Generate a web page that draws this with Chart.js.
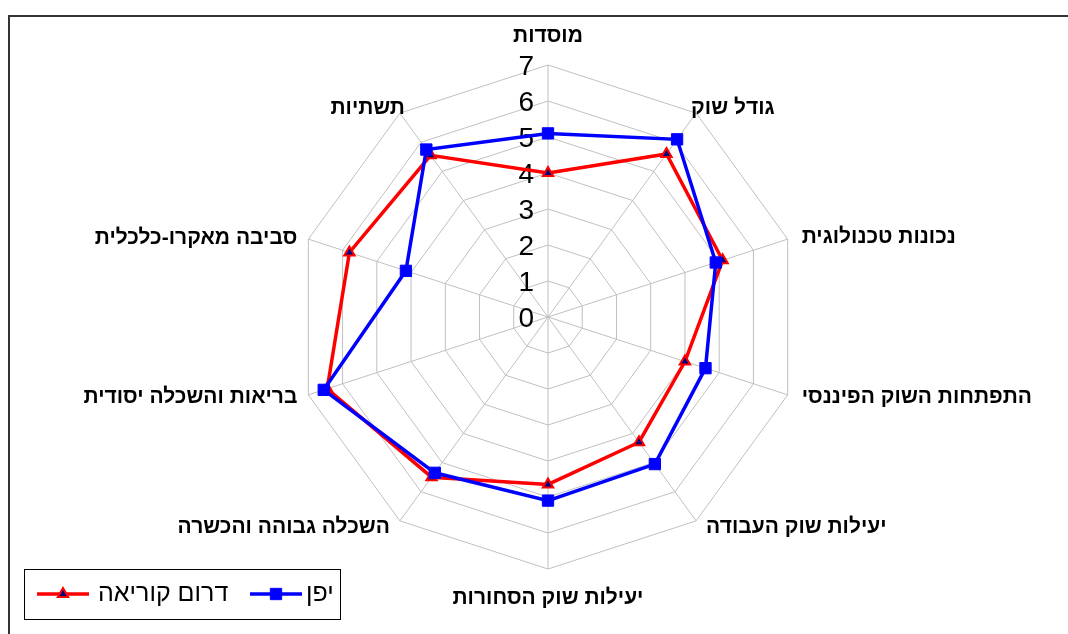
<!DOCTYPE html>
<html lang="he">
<head>
<meta charset="utf-8">
<script src="https://cdn.jsdelivr.net/npm/chart.js@4/dist/chart.umd.min.js"></script>
<style>
    html, body { margin: 0; padding: 0; background: #fff; overflow: hidden; }
    #wrap { position: relative; width: 1068px; height: 634px; overflow: hidden; }
    #frame { position: absolute; left: 8px; top: 15px; width: 1200px; height: 800px;
             border-top: 2px solid #333; border-left: 2px solid #333; }
    canvas { position: absolute; left: 0; top: 0; }
</style>
</head>
<body>
<div id="wrap">
    <div id="frame"></div>
    <canvas id="radarChart" width="1068" height="634"></canvas>
</div>
<script>
// Data
var categories = [
    'מוסדות',
    'גודל שוק',
    'נכונות טכנולוגית',
    'התפתחות השוק הפיננסי',
    'יעילות שוק העבודה',
    'יעילות שוק הסחורות',
    'השכלה גבוהה והכשרה',
    'בריאות והשכלה יסודית',
    'סביבה מאקרו-כלכלית',
    'תשתיות'
];
var koreaValues = [4.0, 5.6, 5.1, 4.0, 4.3, 4.65, 5.5, 6.45, 5.8, 5.55];
var japanValues = [5.1, 6.1, 4.9, 4.6, 5.05, 5.1, 5.35, 6.55, 4.15, 5.75];
var tickLabels = [0, 1, 2, 3, 4, 5, 6, 7];
var seriesNames = ['דרום קוריאה', 'יפן'];

document.addEventListener('DOMContentLoaded', function() {
    var ctx = document.getElementById('radarChart').getContext('2d');

    // offsets of each category label from the outer vertex: [dx, dy, align]
    var labelPlacement = [
        [0, -29, 'center'],
        [-5, -5, 'left'],
        [14, -2, 'left'],
        [14, 2, 'left'],
        [10, 6, 'left'],
        [0, 29, 'center'],
        [-10, 6, 'right'],
        [-11, 2, 'right'],
        [-11, -1, 'right'],
        [5, -5, 'right']
    ];

    // Tick numbers sit to the left of the vertical axis
    var tickPlugin = {
        id: 'tickNumbers',
        beforeDatasetsDraw: function(chart) {
            var scale = chart.scales.r;
            var c = chart.ctx;
            c.save();
            c.font = '28px "Liberation Sans", Arial, sans-serif';
            c.fillStyle = '#000';
            c.textAlign = 'right';
            c.textBaseline = 'middle';
            tickLabels.forEach(function(v) {
                var y = scale.yCenter - scale.getDistanceFromCenterForValue(v);
                c.fillText(String(v), scale.xCenter - 14, y + 2);
            });
            c.restore();
        }
    };

    var labelPlugin = {
        id: 'categoryLabels',
        afterDraw: function(chart) {
            var scale = chart.scales.r;
            var c = chart.ctx;
            c.save();
            c.font = 'bold 21px "Liberation Sans", Arial, sans-serif';
            c.fillStyle = '#000';
            c.textBaseline = 'middle';
            categories.forEach(function(label, i) {
                var p = scale.getPointPosition(i, scale.drawingArea);
                var place = labelPlacement[i];
                c.textAlign = place[2];
                c.fillText(label, p.x + place[0], p.y + place[1]);
            });
            c.restore();
        }
    };

    function drawMarker(c, style, x, y, r) {
        c.beginPath();
        if (style === 'triangle') {
            c.moveTo(x, y - r);
            c.lineTo(x + r * 0.866, y + r * 0.5);
            c.lineTo(x - r * 0.866, y + r * 0.5);
            c.closePath();
        } else {
            var s = r * Math.SQRT1_2;
            c.rect(x - s, y - s, 2 * s, 2 * s);
        }
        c.fill();
        c.stroke();
    }

    // Boxed legend in the lower left corner
    var legendPlugin = {
        id: 'boxLegend',
        afterDraw: function(chart) {
            var c = chart.ctx;
            var sets = [chart.data.datasets[1], chart.data.datasets[0]];
            var itemX = [37, 250];
            var textX = [98, 306];
            var y = 594;
            c.save();
            c.strokeStyle = '#000';
            c.lineWidth = 1;
            c.strokeRect(24.5, 569.5, 316, 50);
            sets.forEach(function(ds, k) {
                c.strokeStyle = ds.borderColor;
                c.lineWidth = 3.5;
                c.beginPath();
                c.moveTo(itemX[k], y);
                c.lineTo(itemX[k] + 52, y);
                c.stroke();
                c.fillStyle = ds.pointBackgroundColor;
                c.strokeStyle = ds.pointBorderColor;
                c.lineWidth = ds.pointBorderWidth;
                drawMarker(c, ds.pointStyle, itemX[k] + 26, y, ds.pointRadius);
                c.fillStyle = '#000';
                c.font = '25px "Liberation Sans", Arial, sans-serif';
                c.textAlign = 'left';
                c.textBaseline = 'middle';
                c.fillText(ds.label, textX[k], y);
            });
            c.restore();
        }
    };

    var data = {
        labels: categories,
        datasets: [
            {
                label: seriesNames[1],
                data: japanValues,
                order: 0,
                borderColor: '#0000ff',
                borderWidth: 3.5,
                pointStyle: 'rect',
                pointRadius: 8,
                pointBackgroundColor: '#0000ff',
                pointBorderColor: '#0000ff',
                pointBorderWidth: 1,
                fill: false
            },
            {
                label: seriesNames[0],
                data: koreaValues,
                order: 1,
                borderColor: '#ff0000',
                borderWidth: 3.5,
                pointStyle: 'triangle',
                pointRadius: 6,
                pointBackgroundColor: '#000080',
                pointBorderColor: '#ff0000',
                pointBorderWidth: 2,
                fill: false
            }
        ]
    };

    var config = {
        type: 'radar',
        data: data,
        options: {
            responsive: false,
            animation: false,
            events: [],
            layout: {
                padding: { left: 296, right: 268, top: 65, bottom: 65 }
            },
            plugins: {
                legend: { display: false },
                tooltip: { enabled: false }
            },
            scales: {
                r: {
                    min: 0,
                    max: 7,
                    ticks: { display: false, stepSize: 1 },
                    grid: { color: '#c0c0c0', lineWidth: 1 },
                    angleLines: { color: '#c0c0c0', lineWidth: 1 },
                    pointLabels: { display: false }
                }
            }
        },
        plugins: [tickPlugin, labelPlugin, legendPlugin]
    };

    new Chart(ctx, config);
});
</script>
</body>
</html>
